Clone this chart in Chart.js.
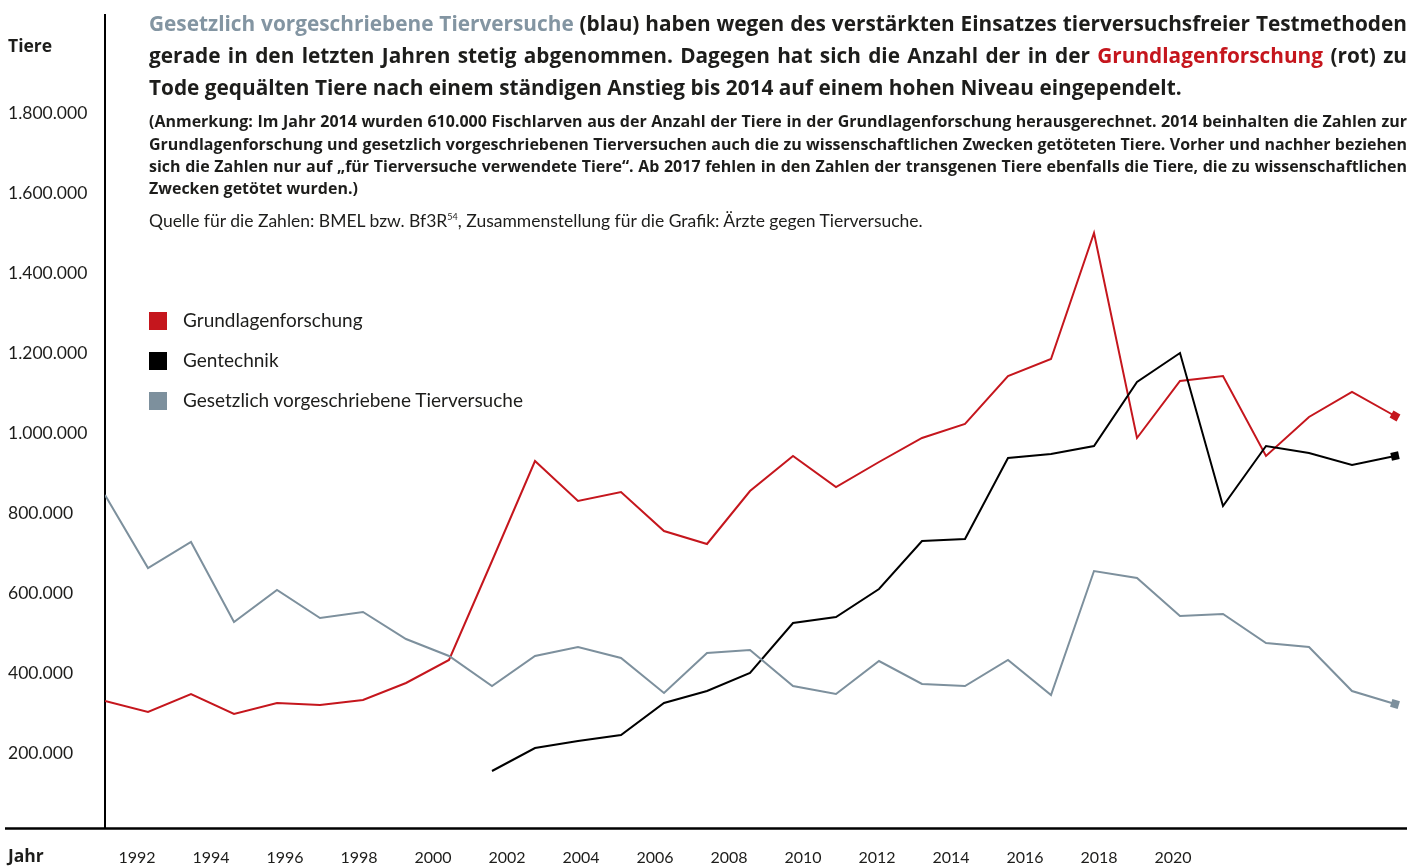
<!DOCTYPE html>
<html lang="de">
<head>
<meta charset="utf-8">
<script src="https://cdn.jsdelivr.net/npm/chart.js@4.4.1/dist/chart.umd.min.js"></script>
<style>
  html, body { margin: 0; padding: 0; background: #fff; }
  body { width: 1425px; height: 866px; position: relative; overflow: hidden; font-family: Lato, "Open Sans", sans-serif; color: #1d1d1b; }
  #wrap { position: absolute; left: 0; top: 0; width: 1425px; height: 866px; }
  .txt { position: absolute; white-space: nowrap; line-height: 1.2; }
  .jl { position: absolute; left: 149px; width: 1258px; white-space: nowrap; line-height: 1.2; font-family: "Open Sans", sans-serif; }
  .just { text-align: justify; text-align-last: justify; }
  .t { font-weight: 700; font-size: 21px; }
  .n { font-weight: 700; font-size: 16.2px; }
  .grey { color: #8395a2; }
  .red { color: #c5161d; }
  .lg { position: absolute; left: 149px; width: 18px; height: 18px; }
  .lgt { position: absolute; left: 183px; font-size: 19px; line-height: 1.2; white-space: nowrap; }
  .ax { font-family: "Open Sans", sans-serif; font-weight: 700; font-size: 17.5px; }
  sup { font-size: 9px; vertical-align: 7px; line-height: 0; }
</style>
</head>
<body>
<div id="wrap"><canvas id="c" width="1425" height="866"></canvas></div>

<div class="txt ax" style="left:8px; top:35px;">Tiere</div>
<div class="txt ax" style="left:8px; top:845px;">Jahr</div>

<div class="jl t fit" style="top:11px;"><span class="grey">Gesetzlich vorgeschriebene Tierversuche</span> (blau) haben wegen des verstärkten Einsatzes tierversuchsfreier Testmethoden</div>
<div class="jl t fit" style="top:43px;">gerade in den letzten Jahren stetig abgenommen. Dagegen hat sich die Anzahl der in der <span class="red">Grundlagenforschung</span> (rot) zu</div>
<div class="jl t" style="top:75px;">Tode gequälten Tiere nach einem ständigen Anstieg bis 2014 auf einem hohen Niveau eingependelt.</div>

<div class="jl n fit" style="top:112px;">(Anmerkung: Im Jahr 2014 wurden 610.000 Fischlarven aus der Anzahl der Tiere in der Grundlagenforschung herausgerechnet. 2014 beinhalten die Zahlen zur</div>
<div class="jl n fit" style="top:135px;">Grundlagenforschung und gesetzlich vorgeschriebenen Tierversuchen auch die zu wissenschaftlichen Zwecken getöteten Tiere. Vorher und nachher beziehen</div>
<div class="jl n fit" style="top:157px;">sich die Zahlen nur auf „für Tierversuche verwendete Tiere“. Ab 2017 fehlen in den Zahlen der transgenen Tiere ebenfalls die Tiere, die zu wissenschaftlichen</div>
<div class="jl n" style="top:179px;">Zwecken getötet wurden.)</div>

<div class="txt" style="left:149px; top:210px; font-size:17.5px;">Quelle für die Zahlen: BMEL bzw. Bf3R<sup>54</sup>, Zusammenstellung für die Grafik: Ärzte gegen Tierversuche.</div>

<div class="lg" style="top:312px; background:#c5161d;"></div>
<div class="lgt" style="top:309px;">Grundlagenforschung</div>
<div class="lg" style="top:352px; background:#000;"></div>
<div class="lgt" style="top:349px;">Gentechnik</div>
<div class="lg" style="top:392px; background:#7d909d;"></div>
<div class="lgt" style="top:389px;">Gesetzlich vorgeschriebene Tierversuche</div>

<script>
// ---- data ----
const years = [1991,1992,1993,1994,1995,1996,1997,1998,1999,2000,2001,2002,2003,2004,2005,2006,2007,2008,2009,2010,2011,2012,2013,2014,2015,2016,2017,2018,2019,2020,2021];
const grundlagenforschung = [330000,302500,347500,297500,325000,320000,332500,375000,432500,680000,930000,830000,852500,755000,722500,855000,942500,865000,927500,987500,1022500,1142500,1185000,1500000,987500,1130000,1142500,942500,1040000,1102500,1042500];
const gentechnik = [null,null,null,null,null,null,null,null,null,155000,212500,230000,245000,325000,355000,400000,525000,540000,610000,730000,735000,937500,947500,967500,1127500,1200000,817500,967500,950000,920000,942500];
const gesetzlich = [845000,662500,727500,527500,607500,537500,552500,485000,442500,367500,442500,465000,437500,350000,450000,457500,367500,347500,430000,372500,367500,432500,345000,655000,637500,542500,547500,475000,465000,355000,322500];
const yTickValues = [200000,400000,600000,800000,1000000,1200000,1400000,1600000,1800000];
const yearTickLabels = [1992,1994,1996,1998,2000,2002,2004,2006,2008,2010,2012,2014,2016,2018,2020];

// ---- justified text fitting ----
function fitGroup(cls) {
  const els = Array.from(document.querySelectorAll('.jl.' + cls));
  const fs = parseFloat(getComputedStyle(els[0]).fontSize);
  let size = fs;
  els.forEach(el => {
    if (!el.classList.contains('fit')) return;
    el.style.display = 'inline-block';
    el.style.width = 'auto';
    const w = el.getBoundingClientRect().width;
    el.style.display = '';
    el.style.width = '';
    size = Math.min(size, fs * 1254 / w);
  });
  els.forEach(el => {
    el.style.fontSize = size.toFixed(2) + 'px';
    if (el.classList.contains('fit')) el.classList.add('just');
  });
}
fitGroup('t');
fitGroup('n');

function fmt(v) { return String(v).replace(/\B(?=(\d{3})+(?!\d))/g, '.'); }

const rows = (arr) => years.map((y, i) => ({ x: y, y: arr[i] }));
const endRadius = (arr) => arr.map((v, i) => i === arr.length - 1 ? 5.6 : 0);

const bottomLine = {
  id: 'bottomLine',
  afterDraw(chart) {
    const { ctx, chartArea } = chart;
    ctx.save();
    ctx.strokeStyle = '#000';
    ctx.lineWidth = 2.5;
    ctx.beginPath();
    ctx.moveTo(5, chartArea.bottom + 0.5);
    ctx.lineTo(chartArea.right, chartArea.bottom + 0.5);
    ctx.stroke();
    ctx.restore();
  }
};

new Chart(document.getElementById('c'), {
  type: 'line',
  data: {
    datasets: [
      { label: 'Gesetzlich vorgeschriebene Tierversuche', data: rows(gesetzlich), borderColor: '#7d909d', backgroundColor: '#7d909d', borderWidth: 2, pointStyle: 'rect', pointRadius: endRadius(gesetzlich), pointRotation: 17, pointBorderWidth: 0, xAxisID: 'x', yAxisID: 'y' },
      { label: 'Gentechnik', data: rows(gentechnik), borderColor: '#000000', backgroundColor: '#000000', borderWidth: 2, pointStyle: 'rect', pointRadius: endRadius(gentechnik), pointRotation: -12, pointBorderWidth: 0, spanGaps: false, xAxisID: 'x', yAxisID: 'y' },
      { label: 'Grundlagenforschung', data: rows(grundlagenforschung), borderColor: '#c5161d', backgroundColor: '#c5161d', borderWidth: 2, pointStyle: 'rect', pointRadius: endRadius(grundlagenforschung), pointRotation: 29, pointBorderWidth: 0, xAxisID: 'x', yAxisID: 'y' }
    ]
  },
  options: {
    responsive: false,
    animation: false,
    events: [],
    layout: { padding: { left: 8, top: 15, right: 18, bottom: 0 } },
    elements: { line: { tension: 0, borderJoinStyle: 'miter' }, point: { hoverRadius: 0 } },
    plugins: { legend: { display: false }, tooltip: { enabled: false }, title: { display: false } },
    scales: {
      x: {
        type: 'linear', display: false,
        min: years[0], max: years[0] + 1302 / 43
      },
      x2: {
        type: 'linear', position: 'bottom',
        min: 1992 - 32 / 37, max: 1992 - 32 / 37 + 1302 / 37,
        grid: { display: false, drawTicks: false },
        border: { display: false },
        afterBuildTicks: (s) => { s.ticks = yearTickLabels.map(v => ({ value: v })); },
        afterFit: (s) => { s.height = 38; },
        ticks: { padding: 20, color: '#1d1d1b', font: { family: 'Lato', size: 16 }, maxRotation: 0, autoSkip: false, callback: (v) => String(v) }
      },
      y: {
        type: 'linear', position: 'left',
        min: 12500, max: 2045000,
        grid: { display: false, drawTicks: false },
        border: { display: true, color: '#000', width: 2 },
        afterBuildTicks: (s) => { s.ticks = yTickValues.map(v => ({ value: v })); },
        afterFit: (s) => { s.width = 97; },
        ticks: { crossAlign: 'far', padding: 0, color: '#1d1d1b', font: { family: 'Lato', size: 17.5 }, autoSkip: false, callback: (v) => fmt(v) }
      }
    }
  },
  plugins: [bottomLine]
});
</script>
</body>
</html>
